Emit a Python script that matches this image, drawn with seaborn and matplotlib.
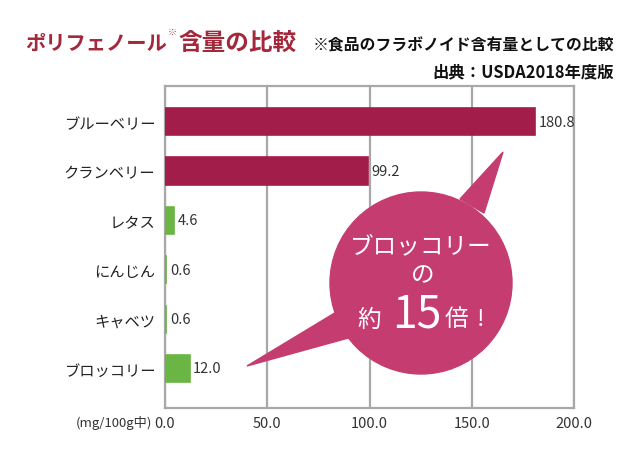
import matplotlib
matplotlib.use('Agg')
import matplotlib.pyplot as plt
import matplotlib.patches as mpatches
import seaborn as sns
import pandas as pd

# ── Data ──────────────────────────────────────────────────────────────────────

FOODS: list[str] = ['ブルーベリー', 'クランベリー', 'レタス', 'にんじん', 'キャベツ', 'ブロッコリー']
POLYPHENOL: list[float] = [180.8, 99.2, 4.6, 0.6, 0.6, 12.0]
GROUP: list[str] = ['berry', 'berry', 'veg', 'veg', 'veg', 'veg']
X_TICKS: list[float] = [0, 50, 100, 150, 200]

COLOUR_BERRY:  str = '#A31D4A'
COLOUR_VEG:    str = '#6BB545'
COLOUR_BUBBLE: str = '#C53D70'
COLOUR_TITLE:  str = '#A3283C'
COLOUR_GRID:   str = '#A8A8A8'

# ── Plot ──────────────────────────────────────────────────────────────────────

sns.set_theme(style='white')
plt.rcParams['font.family'] = ['Noto Sans CJK JP', 'DejaVu Sans']

df = pd.DataFrame({'food': FOODS, 'value': POLYPHENOL, 'group': GROUP})

fig = plt.figure(figsize=(6.4, 4.56), dpi=100)
ax = fig.add_axes([165 / 640, 1 - 409 / 456, 409 / 640, 322 / 456])

sns.barplot(
    data=df, x='value', y='food', hue='group',
    palette={'berry': COLOUR_BERRY, 'veg': COLOUR_VEG},
    order=FOODS, dodge=False, width=0.55, legend=False,
    saturation=1, ax=ax, zorder=3,
)
# thin bars (0.6) still need to show as a sliver
for bar in ax.patches:
    bar.set_edgecolor(bar.get_facecolor())
    bar.set_linewidth(1.2)

ax.set_xlim(0, 200)
ax.set_ylim(5.8, -0.72)
ax.set_xticks(X_TICKS)
ax.set_xticklabels([f'{t:.1f}' for t in X_TICKS], fontsize=10.5, color='#333333')
ax.tick_params(axis='y', labelsize=11, labelcolor='#222222', length=0, pad=7)
ax.tick_params(axis='x', length=0, pad=6)
ax.set_xlabel('')
ax.set_ylabel('')
ax.grid(axis='x', color=COLOUR_GRID, linewidth=1.6, zorder=0)
ax.set_axisbelow(True)
for side in ax.spines.values():
    side.set_color(COLOUR_GRID)
    side.set_linewidth(1.6)

for i, val in enumerate(POLYPHENOL):
    ax.text(val + 1.8, i, f'{val:.1f}', va='center', ha='left',
            fontsize=10.5, color='#333333', zorder=4)

# ── Overlay: titles and speech bubble (pixel coordinates) ─────────────────────

ov = fig.add_axes([0, 0, 1, 1], zorder=10)
ov.set_xlim(0, 640)
ov.set_ylim(456, 0)
ov.axis('off')
ov.patch.set_alpha(0)

ov.text(152, 423, '(mg/100g中)', fontsize=9.5, color='#333333', ha='right', va='center')

ov.text(25, 43, 'ポリフェノール', fontsize=14.6, fontweight='bold', color=COLOUR_TITLE,
        ha='left', va='center')
ov.text(172, 32, '※', fontsize=6.5, fontweight='bold', color=COLOUR_TITLE,
        ha='center', va='center')
ov.text(178, 43, '含量の比較', fontsize=17, fontweight='bold', color=COLOUR_TITLE,
        ha='left', va='center')
ov.text(614, 45, '※食品のフラボノイド含有量としての比較', fontsize=11.4, fontweight='bold',
        color='#111111', ha='right', va='center')
ov.text(614, 72, '出典：USDA2018年度版', fontsize=11.8, fontweight='bold',
        color='#111111', ha='right', va='center')

ov.add_patch(mpatches.Circle((421, 284), 91, color=COLOUR_BUBBLE, zorder=1))
ov.add_patch(mpatches.Polygon([(460, 200), (503, 153), (484, 214)],
                              closed=True, color=COLOUR_BUBBLE, zorder=1))
ov.add_patch(mpatches.Polygon([(338, 312), (247, 367), (352, 338)],
                              closed=True, color=COLOUR_BUBBLE, zorder=1))

ov.text(421, 247, 'ブロッコリー', fontsize=17, color='white', ha='center', va='center', zorder=2)
ov.text(423, 276, 'の', fontsize=17, color='white', ha='center', va='center', zorder=2)
ov.text(369, 320, '約', fontsize=17, color='white', ha='center', va='center', zorder=2)
ov.text(417, 315, '15', fontsize=32, color='white', ha='center', va='center', zorder=2)
ov.text(456, 320, '倍', fontsize=17, color='white', ha='center', va='center', zorder=2)
ov.text(481, 320, '!', fontsize=17, color='white', ha='center', va='center', zorder=2)

fig.savefig('out.png', dpi=100)
